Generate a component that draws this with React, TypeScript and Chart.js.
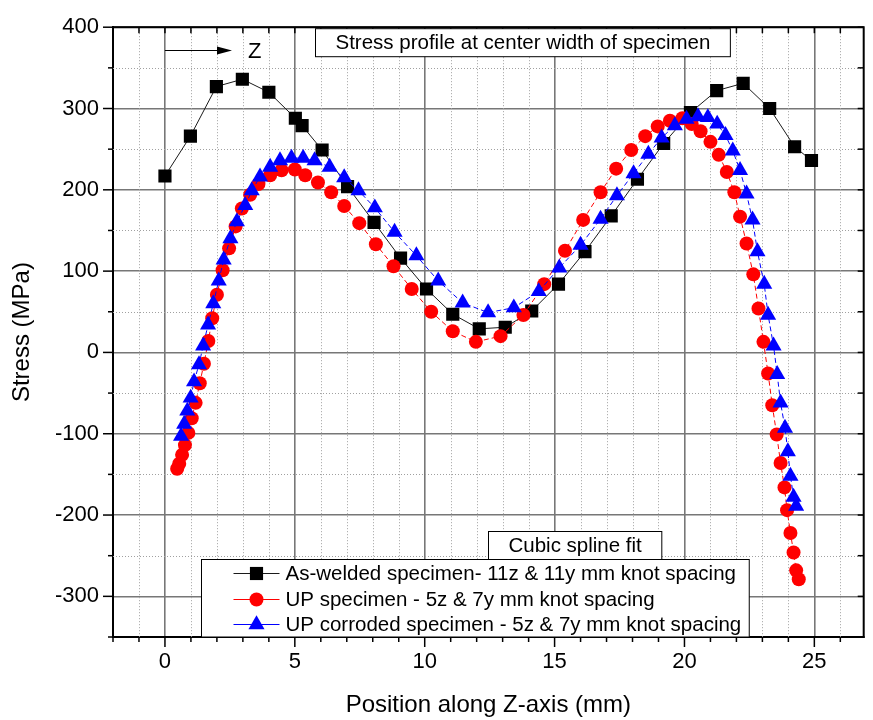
import React, { useEffect, useRef } from 'react';
import { Chart, registerables } from 'chart.js';

Chart.register(...registerables);

const SANS = "'Liberation Sans', Arial, sans-serif";
const NARROW = "'Liberation Sans Narrow', 'Arial Narrow', 'Liberation Sans', Arial, sans-serif";

// ---- data ----
const seriesLabels = [
  'As-welded specimen- 11z & 11y mm knot spacing',
  'UP specimen - 5z & 7y mm knot spacing',
  'UP corroded specimen - 5z & 7y mm knot spacing',
];

const weldedX = [0, 0.98, 1.98, 2.98, 4.0, 5.02, 5.28, 6.05, 7.03, 8.05, 9.07, 10.07, 11.08, 12.1, 13.1, 14.12, 15.15, 16.17, 17.18, 18.19, 19.2, 20.23, 21.24, 22.26, 23.28, 24.24, 24.89];
const weldedY = [217, 266, 327, 336, 320, 288, 279, 249, 204, 160, 116, 78, 47, 29, 31, 51, 84, 124, 168, 213, 257, 295, 322, 331, 300, 253, 236];

const upX = [0.47, 0.55, 0.66, 0.77, 0.9, 1.03, 1.18, 1.34, 1.5, 1.67, 1.82, 2.0, 2.22, 2.47, 2.72, 2.96, 3.28, 3.6, 4.05, 4.49, 5.0, 5.4, 5.89, 6.4, 6.9, 7.48, 8.12, 8.8, 9.5, 10.25, 11.08, 11.97, 12.92, 13.8, 14.6, 15.4, 16.1, 16.77, 17.37, 17.95, 18.49, 18.97, 19.44, 19.92, 20.28, 20.62, 21.0, 21.32, 21.63, 21.92, 22.14, 22.39, 22.65, 22.85, 23.04, 23.22, 23.38, 23.55, 23.7, 23.85, 23.95, 24.08, 24.2, 24.3, 24.4];
const upY = [-143, -137, -126, -114, -99, -81, -62, -38, -14, 14, 42, 71, 101, 128, 155, 177, 194, 207, 218, 224, 225, 218, 209, 197, 180, 159, 133, 106, 78, 50, 26, 13, 20, 46, 84, 125, 163, 197, 226, 249, 266, 278, 285, 288, 281, 272, 259, 243, 222, 197, 167, 134, 96, 54, 13, -26, -65, -101, -136, -166, -194, -222, -246, -268, -279];

const corrX = [0.62, 0.74, 0.86, 0.99, 1.12, 1.31, 1.47, 1.66, 1.86, 2.07, 2.26, 2.52, 2.77, 3.09, 3.34, 3.66, 4.05, 4.43, 4.87, 5.32, 5.76, 6.34, 6.9, 7.45, 8.08, 8.84, 9.68, 10.52, 11.46, 12.44, 13.43, 14.39, 15.18, 16.0, 16.77, 17.4, 18.04, 18.61, 19.12, 19.63, 20.08, 20.52, 20.9, 21.26, 21.58, 21.86, 22.14, 22.39, 22.62, 22.81, 23.07, 23.22, 23.43, 23.57, 23.7, 23.87, 23.98, 24.08, 24.2, 24.3];
const corrY = [-103, -88, -72, -56, -36, -15, 8, 34, 60, 88, 114, 140, 161, 181, 199, 216, 228, 236, 239, 239, 236, 228, 215, 199, 178, 148, 119, 88, 61, 49, 55, 75, 104, 132, 164, 193, 220, 244, 264, 279, 287, 290, 289, 281, 267, 248, 224, 195, 163, 124, 84, 46, 8, -27, -62, -93, -122, -152, -178, -189];

const xTickLabels = [0, 5, 10, 15, 20, 25];
const yTickLabels = [-300, -200, -100, 0, 100, 200, 300, 400];

const chartTitle = 'Stress profile at center width of specimen';
const fitNote = 'Cubic spline fit';
const xAxisTitle = 'Position along Z-axis (mm)';
const yAxisTitle = 'Stress (MPa)';
const arrowLabel = 'Z';

// axis ranges
const X_MIN = -2, X_MAX = 26.9, X_MINOR = 1;
const Y_MIN = -350, Y_MAX = 400, Y_MINOR = 50;

// annotation anchors (data coordinates)
const TITLE_CENTER_X = 13.77;
const ARROW = { x0: 0, x1: 2.58, y: 372, labelX: 3.2 };
const LEGEND_LEFT_X = 1.38;
const NOTE_LEFT_X = 12.43;

const isMajorX = (v: number) => xTickLabels.includes(v);
const isMajorY = (v: number) => yTickLabels.includes(v);

function drawMarker(ctx: CanvasRenderingContext2D, style: string, r: number, x: number, y: number, color: string) {
  ctx.fillStyle = color;
  ctx.beginPath();
  if (style === 'rect') {
    const s = Math.SQRT1_2 * r;
    ctx.rect(x - s, y - s, 2 * s, 2 * s);
  } else if (style === 'triangle') {
    let a = 0;
    ctx.moveTo(x + Math.sin(a) * r, y - Math.cos(a) * r);
    a += (2 * Math.PI) / 3;
    ctx.lineTo(x + Math.sin(a) * r, y - Math.cos(a) * r);
    a += (2 * Math.PI) / 3;
    ctx.lineTo(x + Math.sin(a) * r, y - Math.cos(a) * r);
    ctx.closePath();
  } else {
    ctx.arc(x, y, r, 0, Math.PI * 2);
  }
  ctx.fill();
}

const decorPlugin = {
  id: 'decor',
  beforeDatasetsDraw(chart: any) {
    const { ctx, chartArea: ca } = chart;
    const xs = chart.scales.x;
    const ys = chart.scales.y;
    ctx.save();
    ctx.strokeStyle = '#a0a0a0';
    ctx.lineWidth = 1;
    ctx.setLineDash([1, 2]);
    xs.ticks.forEach((t: any) => {
      if (isMajorX(t.value) || t.value === X_MIN) return;
      const px = Math.round(xs.getPixelForValue(t.value)) + 0.5;
      ctx.beginPath();
      ctx.moveTo(px, ca.top);
      ctx.lineTo(px, ca.bottom);
      ctx.stroke();
    });
    ys.ticks.forEach((t: any) => {
      if (isMajorY(t.value) || t.value === Y_MIN) return;
      const py = Math.round(ys.getPixelForValue(t.value)) + 0.5;
      ctx.beginPath();
      ctx.moveTo(ca.left, py);
      ctx.lineTo(ca.right, py);
      ctx.stroke();
    });
    ctx.restore();
  },
  afterDraw(chart: any) {
    const { ctx, chartArea: ca } = chart;
    const xs = chart.scales.x;
    const ys = chart.scales.y;
    const line = (a: number, b: number, c: number, d: number) => {
      ctx.beginPath();
      ctx.moveTo(a, b);
      ctx.lineTo(c, d);
      ctx.stroke();
    };
    ctx.save();
    ctx.setLineDash([]);
    // top & right frame
    ctx.strokeStyle = '#000';
    ctx.lineWidth = 2;
    ctx.beginPath();
    ctx.moveTo(ca.left - 1, ca.top);
    ctx.lineTo(ca.right, ca.top);
    ctx.lineTo(ca.right, ca.bottom + 1);
    ctx.stroke();
    // tick marks
    ctx.lineWidth = 1.5;
    xs.ticks.forEach((t: any) => {
      const px = xs.getPixelForValue(t.value);
      const len = isMajorX(t.value) ? 10 : 5;
      line(px, ca.bottom, px, ca.bottom + len);
      line(px, ca.top, px, ca.top + 6);
    });
    ys.ticks.forEach((t: any) => {
      const py = ys.getPixelForValue(t.value);
      const len = isMajorY(t.value) ? 10 : 5;
      line(ca.left - len, py, ca.left, py);
      line(ca.right - 6, py, ca.right, py);
    });

    // title box
    ctx.font = `20.5px ${SANS}`;
    const tw = ctx.measureText(chartTitle).width;
    const tcx = xs.getPixelForValue(TITLE_CENTER_X);
    const bw = tw + 40;
    const bx = Math.round(tcx - bw / 2) + 0.5;
    const by = ca.top + 1.5;
    const bh = 28;
    ctx.fillStyle = '#fff';
    ctx.fillRect(bx, by, bw, bh);
    ctx.strokeStyle = '#000';
    ctx.lineWidth = 1;
    ctx.strokeRect(bx, by, bw, bh);
    ctx.fillStyle = '#000';
    ctx.textAlign = 'center';
    ctx.textBaseline = 'middle';
    ctx.fillText(chartTitle, bx + bw / 2, by + bh / 2 + 1);

    // arrow + Z
    const ax0 = xs.getPixelForValue(ARROW.x0);
    const ax1 = xs.getPixelForValue(ARROW.x1);
    const ay = Math.round(ys.getPixelForValue(ARROW.y)) + 0.5;
    ctx.lineWidth = 1;
    line(ax0, ay, ax1 - 10, ay);
    ctx.beginPath();
    ctx.moveTo(ax1, ay);
    ctx.lineTo(ax1 - 15, ay - 4);
    ctx.lineTo(ax1 - 15, ay + 4);
    ctx.closePath();
    ctx.fill();
    ctx.font = `22px ${SANS}`;
    ctx.textAlign = 'left';
    ctx.fillText(arrowLabel, xs.getPixelForValue(ARROW.labelX), ay + 1);

    // legend
    const datasets = chart.data.datasets;
    ctx.font = `20.5px ${SANS}`;
    const maxW = Math.max(...datasets.map((d: any) => ctx.measureText(d.label).width));
    const padL = 32, sample = 46, gap = 6, padR = 8, rowH = 25.5;
    const lw = padL + sample + gap + maxW + padR;
    const lh = rowH * datasets.length + 1;
    const lx = Math.round(xs.getPixelForValue(LEGEND_LEFT_X)) + 0.5;
    const ly = Math.round(ca.bottom - lh - 1) + 0.5;

    // note box above legend
    const nw = ctx.measureText(fitNote).width + 40;
    const nx = Math.round(xs.getPixelForValue(NOTE_LEFT_X)) + 0.5;
    const nh = 28;
    const ny = ly - nh;
    ctx.fillStyle = '#fff';
    ctx.fillRect(nx, ny, nw, nh);
    ctx.strokeStyle = '#000';
    ctx.strokeRect(nx, ny, nw, nh);
    ctx.fillStyle = '#000';
    ctx.textAlign = 'center';
    ctx.fillText(fitNote, nx + nw / 2, ny + nh / 2 + 1);

    ctx.fillStyle = '#fff';
    ctx.fillRect(lx, ly, lw, lh);
    ctx.strokeStyle = '#000';
    ctx.strokeRect(lx, ly, lw, lh);
    datasets.forEach((d: any, i: number) => {
      const ry = Math.round(ly + rowH * i + rowH / 2 + 1) + 0.5;
      const sx = lx + padL;
      ctx.strokeStyle = d.borderColor;
      ctx.lineWidth = 1;
      line(sx, ry, sx + sample, ry);
      drawMarker(ctx, d.pointStyle, d.pointRadius, sx + sample / 2, ry, d.pointBackgroundColor);
      ctx.fillStyle = '#000';
      ctx.textAlign = 'left';
      ctx.fillText(d.label, sx + sample + gap, ry + 1);
    });
    ctx.restore();
  },
};

const toPoints = (xs: number[], ys: number[]) => xs.map((x, i) => ({ x, y: ys[i] }));

export default function App() {
  const ref = useRef<HTMLCanvasElement>(null);
  useEffect(() => {
    const canvas = ref.current;
    if (!canvas) return;
    const chart = new Chart(canvas, {
      type: 'scatter',
      data: {
        datasets: [
          {
            label: seriesLabels[0],
            data: toPoints(weldedX, weldedY),
            showLine: true,
            borderColor: '#1a1a1a',
            borderWidth: 1,
            pointStyle: 'rect',
            pointRadius: 9.3,
            pointBackgroundColor: '#000000',
            pointBorderWidth: 0,
            tension: 0,
            order: 3,
          },
          {
            label: seriesLabels[1],
            data: toPoints(upX, upY),
            showLine: true,
            borderColor: '#ff0000',
            borderWidth: 1,
            borderDash: [5, 3],
            pointStyle: 'circle',
            pointRadius: 7,
            pointBackgroundColor: '#ff0000',
            pointBorderWidth: 0,
            tension: 0,
            order: 2,
          },
          {
            label: seriesLabels[2],
            data: toPoints(corrX, corrY),
            showLine: true,
            borderColor: '#0000ff',
            borderWidth: 1,
            borderDash: [5, 3],
            pointStyle: 'triangle',
            pointRadius: 9.3,
            pointBackgroundColor: '#0000ff',
            pointBorderWidth: 0,
            tension: 0,
            order: 1,
          },
        ] as any,
      },
      options: {
        animation: false,
        responsive: true,
        maintainAspectRatio: false,
        layout: { padding: { left: 0, right: 5, top: 20, bottom: 0 } },
        plugins: {
          legend: { display: false },
          tooltip: { enabled: false },
        },
        scales: {
          x: {
            type: 'linear',
            min: X_MIN,
            max: X_MAX,
            afterFit: (s: any) => {
              s.height = 83;
            },
            ticks: {
              stepSize: X_MINOR,
              includeBounds: false,
              autoSkip: false,
              maxRotation: 0,
              padding: 12,
              color: '#000',
              font: { family: NARROW, size: 22 },
              callback: (v: any) => (isMajorX(Number(v)) ? String(v) : ''),
            },
            grid: {
              drawTicks: false,
              lineWidth: 1.6,
              color: (c: any) => (c.tick && isMajorX(c.tick.value) ? '#777777' : 'rgba(0,0,0,0)'),
            },
            border: { display: true, color: '#000', width: 2 },
            title: {
              display: true,
              text: xAxisTitle,
              color: '#000',
              font: { family: NARROW, size: 24 },
              padding: { top: 0, bottom: 0 },
            },
          },
          y: {
            type: 'linear',
            min: Y_MIN,
            max: Y_MAX,
            afterFit: (s: any) => {
              s.width = 113;
            },
            ticks: {
              stepSize: Y_MINOR,
              autoSkip: false,
              padding: 14,
              color: '#000',
              font: { family: SANS, size: 22 },
              callback: (v: any) => (isMajorY(Number(v)) ? String(v) : ''),
            },
            grid: {
              drawTicks: false,
              lineWidth: 1.6,
              color: (c: any) => (c.tick && isMajorY(c.tick.value) ? '#777777' : 'rgba(0,0,0,0)'),
            },
            border: { display: true, color: '#000', width: 2 },
            title: {
              display: true,
              text: yAxisTitle,
              color: '#000',
              font: { family: SANS, size: 24 },
              padding: { top: 8, bottom: 0 },
            },
          },
        },
      } as any,
      plugins: [decorPlugin],
    });
    return () => chart.destroy();
  }, []);
  return (
    <div style={{ position: 'absolute', left: 0, top: 0, width: 873, height: 720, background: '#fff' }}>
      <canvas ref={ref} />
    </div>
  );
}
